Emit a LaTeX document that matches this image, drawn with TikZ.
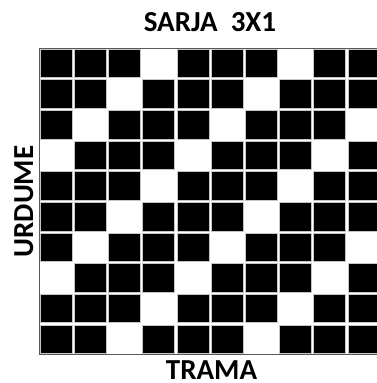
\documentclass[tikz,border=0pt]{standalone}
\usepackage{fontspec}
\setmainfont{Carlito}
\usepackage{tikz}
\usetikzlibrary{positioning}
\tikzset{
  cellB/.style={fill=black,draw=gray!45,line width=0.6pt},
  gridEdge/.style={draw=gray!70!black,line width=0.9pt},
  weaveText/.style={font=\fontsize{29}{29}\selectfont\bfseries,inner sep=0pt,anchor=base}
}

\begin{document}
\begin{tikzpicture}[x=1pt,y=1pt]
  \clip (0,0) rectangle (377,383);
  \fill[white] (0,0) rectangle (377,383);
  % 3x1 twill grid, white where (col+row) mod 4 = 3
  \begin{scope}[shift={(39,335)},x=34.2pt,y=-30.65pt]
    \foreach \r in {0,...,9}{
      \foreach \c in {0,...,9}{
        \pgfmathtruncatemacro\w{mod(\c+\r,4)}
        \ifnum\w=3\else
          \fill[cellB] (\c+0.03,\r+0.035) rectangle (\c+0.97,\r+0.965);
        \fi
      }
    }
    \draw[gridEdge] (0,0) rectangle (10,10);
  \end{scope}
  \node[weaveText] (title) at (210,351) {SARJA\ \ 3X1};
  \node[weaveText,rotate=90] (warp) at (33,181.5) {URDUME};
  \node[weaveText] (weft) at (211.5,3.5) {TRAMA};
\end{tikzpicture}
\end{document}
